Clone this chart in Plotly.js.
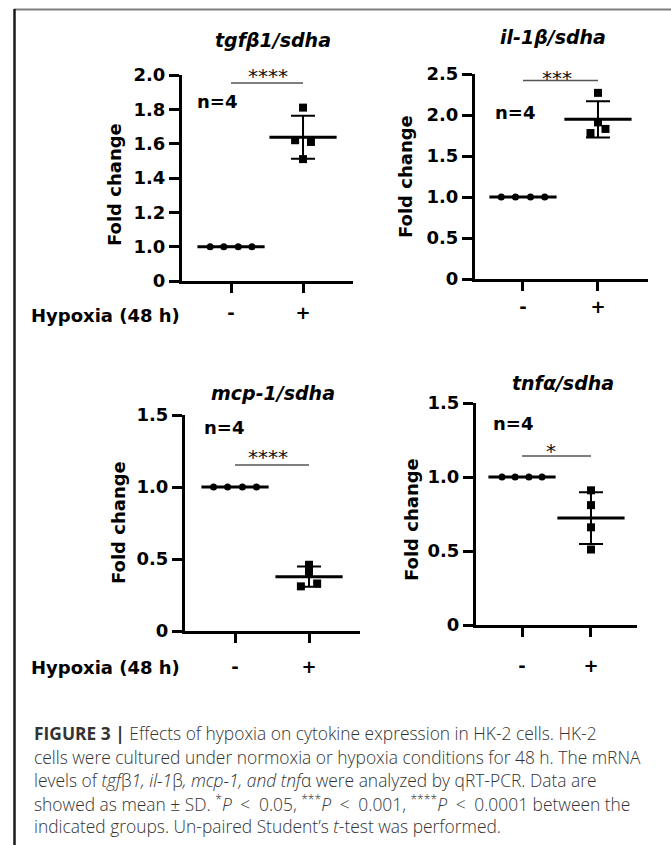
<!DOCTYPE html>
<html><head><meta charset="utf-8">
<script src="https://cdn.plot.ly/plotly-3.0.1.min.js"></script>
<style>html,body{margin:0;padding:0;background:#fff}#chart{width:671px;height:845px}</style>
</head><body><div id="chart"></div>
<script>
// ---------- data ----------
const groupLabels = ['-', '+'];
const panelTitles = ['tgfβ1/sdha', 'il-1β/sdha', 'mcp-1/sdha', 'tnfα/sdha'];
const tgfControl = [1, 1, 1, 1];
const tgfHypoxia = [1.81, 1.62, 1.61, 1.51];
const ilControl = [1, 1, 1, 1];
const ilHypoxia = [2.27, 1.91, 1.78, 1.83];
const mcpControl = [1, 1, 1, 1];
const mcpHypoxia = [0.46, 0.41, 0.31, 0.33];
const tnfControl = [1, 1, 1, 1];
const tnfHypoxia = [0.91, 0.81, 0.66, 0.51];
const significance = ['****', '***', '****', '*'];
const sampleSize = 'n=4';
const tgfTickVals = [0.8, 1.0, 1.2, 1.4, 1.6, 1.8, 2.0];
const tgfTickText = ['0', '1.0', '1.2', '1.4', '1.6', '1.8', '2.0'];
const ilTickVals = [0, 0.5, 1, 1.5, 2, 2.5];
const ilTickText = ['0', '0.5', '1.0', '1.5', '2.0', '2.5'];
const lowTickVals = [0, 0.5, 1, 1.5];
const lowTickText = ['0', '0.5', '1.0', '1.5'];
const xAxisLabel = 'Hypoxia (48 h)';
const yAxisLabel = 'Fold change';
const captionLines = [
  '<b>FIGURE 3 |</b> Effects of hypoxia on cytokine expression in HK-2 cells. HK-2',
  'cells were cultured under normoxia or hypoxia conditions for 48 h. The mRNA',
  'levels of <i>tgf</i>β<i>1, il-1</i>β<i>, mcp-1, and tnf</i>α were analyzed by qRT-PCR. Data are',
  'showed as mean ± SD. <sup>*</sup><i>P</i>\u2002&lt;\u20020.05, <sup>***</sup><i>P</i>\u2002&lt;\u20020.001, <sup>****</sup><i>P</i>\u2002&lt;\u20020.0001 between the',
  'indicated groups. Un-paired Student’s <i>t</i>-test was performed.'
];

// ---------- layout helpers ----------
const W = 671, H = 845;
const px = v => v / W;
const py = v => 1 - v / H;
const mean = a => a.reduce((s, v) => s + v, 0) / a.length;
const sd = a => { const m = mean(a); return Math.sqrt(a.reduce((s, v) => s + (v - m) * (v - m), 0) / (a.length - 1)); };

const ctrlSpread = [-0.29, -0.1, 0.1, 0.29];
const panels = [
  { ctrl: tgfControl, hyp: tgfHypoxia, tv: tgfTickVals, tt: tgfTickText,
    dx: [182, 353], dy: [75, 281], xr: [0.319, 2.694], yr: [0.8, 2.0], jit: [0, -0.11, 0.11, 0],
    title: [273, 40], n: [195, 102], star: [268, 76], sigY: 1.953, fold: [114, 185], standoff: 4 },
  { ctrl: ilControl, hyp: ilHypoxia, tv: ilTickVals, tt: ilTickText,
    dx: [475, 648], dy: [74, 279], xr: [0.36, 2.667], yr: [0, 2.5], jit: [0, 0, -0.1, 0.1],
    title: [553, 37], n: [493, 112], star: [557, 78], sigY: 2.42, fold: [406, 177], standoff: 0 },
  { ctrl: mcpControl, hyp: mcpHypoxia, tv: lowTickVals, tt: lowTickText,
    dx: [185, 360], dy: [415, 631], xr: [0.324, 2.689], yr: [0, 1.5], jit: [0, 0, -0.11, 0.11],
    title: [273, 393], n: [202, 427], star: [268, 457], sigY: 1.153, fold: [118, 523], standoff: 8 },
  { ctrl: tnfControl, hyp: tnfHypoxia, tv: lowTickVals, tt: lowTickText,
    dx: [476, 637], dy: [403, 625], xr: [0.333, 2.667], yr: [0, 1.5], jit: [0, 0, 0, 0],
    title: [563, 383], n: [491, 423], star: [551, 451], sigY: 1.142, fold: [411, 520], standoff: 13 }
];

const boldFont = { family: 'DejaVu Sans', size: 18, color: '#000', weight: 'bold' };
const traces = [];
const annotations = [];
const shapes = [];
const layout = {
  width: W, height: H, margin: { l: 0, r: 0, t: 0, b: 0 },
  paper_bgcolor: '#fff', plot_bgcolor: 'rgba(0,0,0,0)', showlegend: false,
  font: { family: 'DejaVu Sans', color: '#000' }
};

panels.forEach((p, i) => {
  const k = i === 0 ? '' : String(i + 1);
  const xa = 'x' + k, ya = 'y' + k;
  layout['xaxis' + k] = {
    domain: [px(p.dx[0]), px(p.dx[1])], range: p.xr, anchor: ya,
    showline: true, linewidth: 3, linecolor: '#000', ticks: 'outside', ticklen: 9, tickwidth: 3, tickcolor: '#000',
    tickvals: [1, 2], ticktext: groupLabels, tickfont: boldFont, ticklabelstandoff: p.standoff,
    showgrid: false, zeroline: false
  };
  layout['yaxis' + k] = {
    domain: [py(p.dy[1]), py(p.dy[0])], range: p.yr, anchor: xa,
    showline: true, linewidth: 3, linecolor: '#000', ticks: 'outside', ticklen: 10, tickwidth: 3, tickcolor: '#000',
    tickvals: p.tv, ticktext: p.tt, tickfont: boldFont,
    showgrid: false, zeroline: false
  };
  const groups = [p.ctrl, p.hyp];
  groups.forEach((g, gi) => {
    traces.push({
      type: 'scatter', mode: 'markers', xaxis: xa, yaxis: ya, x: [gi + 1], y: [mean(g)],
      marker: { symbol: 'line-ew', size: 48, color: '#000', line: { width: 3, color: '#000' } },
      error_y: { type: 'data', array: [sd(g)], visible: true, color: '#000', thickness: 2, width: 12 },
      hoverinfo: 'skip', cliponaxis: false
    });
  });
  traces.push({
    type: 'scatter', mode: 'markers', xaxis: xa, yaxis: ya,
    x: p.ctrl.map((v, j) => 1 + ctrlSpread[j]), y: p.ctrl,
    marker: { symbol: 'circle', size: 7, color: '#000' }, cliponaxis: false
  });
  traces.push({
    type: 'scatter', mode: 'markers', xaxis: xa, yaxis: ya,
    x: p.hyp.map((v, j) => 2 + p.jit[j]), y: p.hyp,
    marker: { symbol: 'square', size: 8, color: '#000' }, cliponaxis: false
  });
  // significance bar
  shapes.push({ type: 'line', xref: xa, yref: ya, x0: 1, x1: 2, y0: p.sigY, y1: p.sigY,
    line: { color: '#555', width: 1.5 } });
  annotations.push({ xref: 'paper', yref: 'paper', x: px(p.star[0]), y: py(p.star[1]), text: significance[i],
    showarrow: false, xanchor: 'center', yanchor: 'middle', font: { family: 'DejaVu Sans', size: 20, color: '#111' } });
  annotations.push({ xref: 'paper', yref: 'paper', x: px(p.title[0]), y: py(p.title[1]), text: panelTitles[i],
    showarrow: false, xanchor: 'center', yanchor: 'middle',
    font: { family: 'DejaVu Sans', size: 19, color: '#000', weight: 'bold', style: 'italic' } });
  annotations.push({ xref: 'paper', yref: 'paper', x: px(p.n[0]), y: py(p.n[1]), text: sampleSize,
    showarrow: false, xanchor: 'left', yanchor: 'middle', font: boldFont });
  annotations.push({ xref: 'paper', yref: 'paper', x: px(p.fold[0]), y: py(p.fold[1]), text: yAxisLabel,
    showarrow: false, xanchor: 'center', yanchor: 'middle', textangle: -90, font: boldFont });
});

// x-axis group labels
[[182, 315], [182, 667]].forEach(([x, y]) => {
  annotations.push({ xref: 'paper', yref: 'paper', x: px(x), y: py(y), text: xAxisLabel,
    showarrow: false, xanchor: 'right', yanchor: 'middle', font: boldFont });
});

// caption
const capY = [733, 757, 780, 803, 826];
captionLines.forEach((t, i) => {
  annotations.push({ xref: 'paper', yref: 'paper', x: px(32), y: py(capY[i]), text: t,
    showarrow: false, xanchor: 'left', yanchor: 'middle', align: 'left',
    font: { family: 'Open Sans', size: 17.4, color: '#333', weight: 300 } });
});

// frame
shapes.push({ type: 'line', xref: 'paper', yref: 'paper', x0: px(14), x1: 1, y0: py(9.5), y1: py(9.5),
  line: { color: '#7f7f7f', width: 2 } });
shapes.push({ type: 'line', xref: 'paper', yref: 'paper', x0: px(14.5), x1: px(14.5), y0: py(9), y1: 0,
  line: { color: '#1a1a1a', width: 2.5 } });

layout.annotations = annotations;
layout.shapes = shapes;
Plotly.newPlot('chart', traces, layout, { staticPlot: true, displayModeBar: false });
</script>
</body></html>
